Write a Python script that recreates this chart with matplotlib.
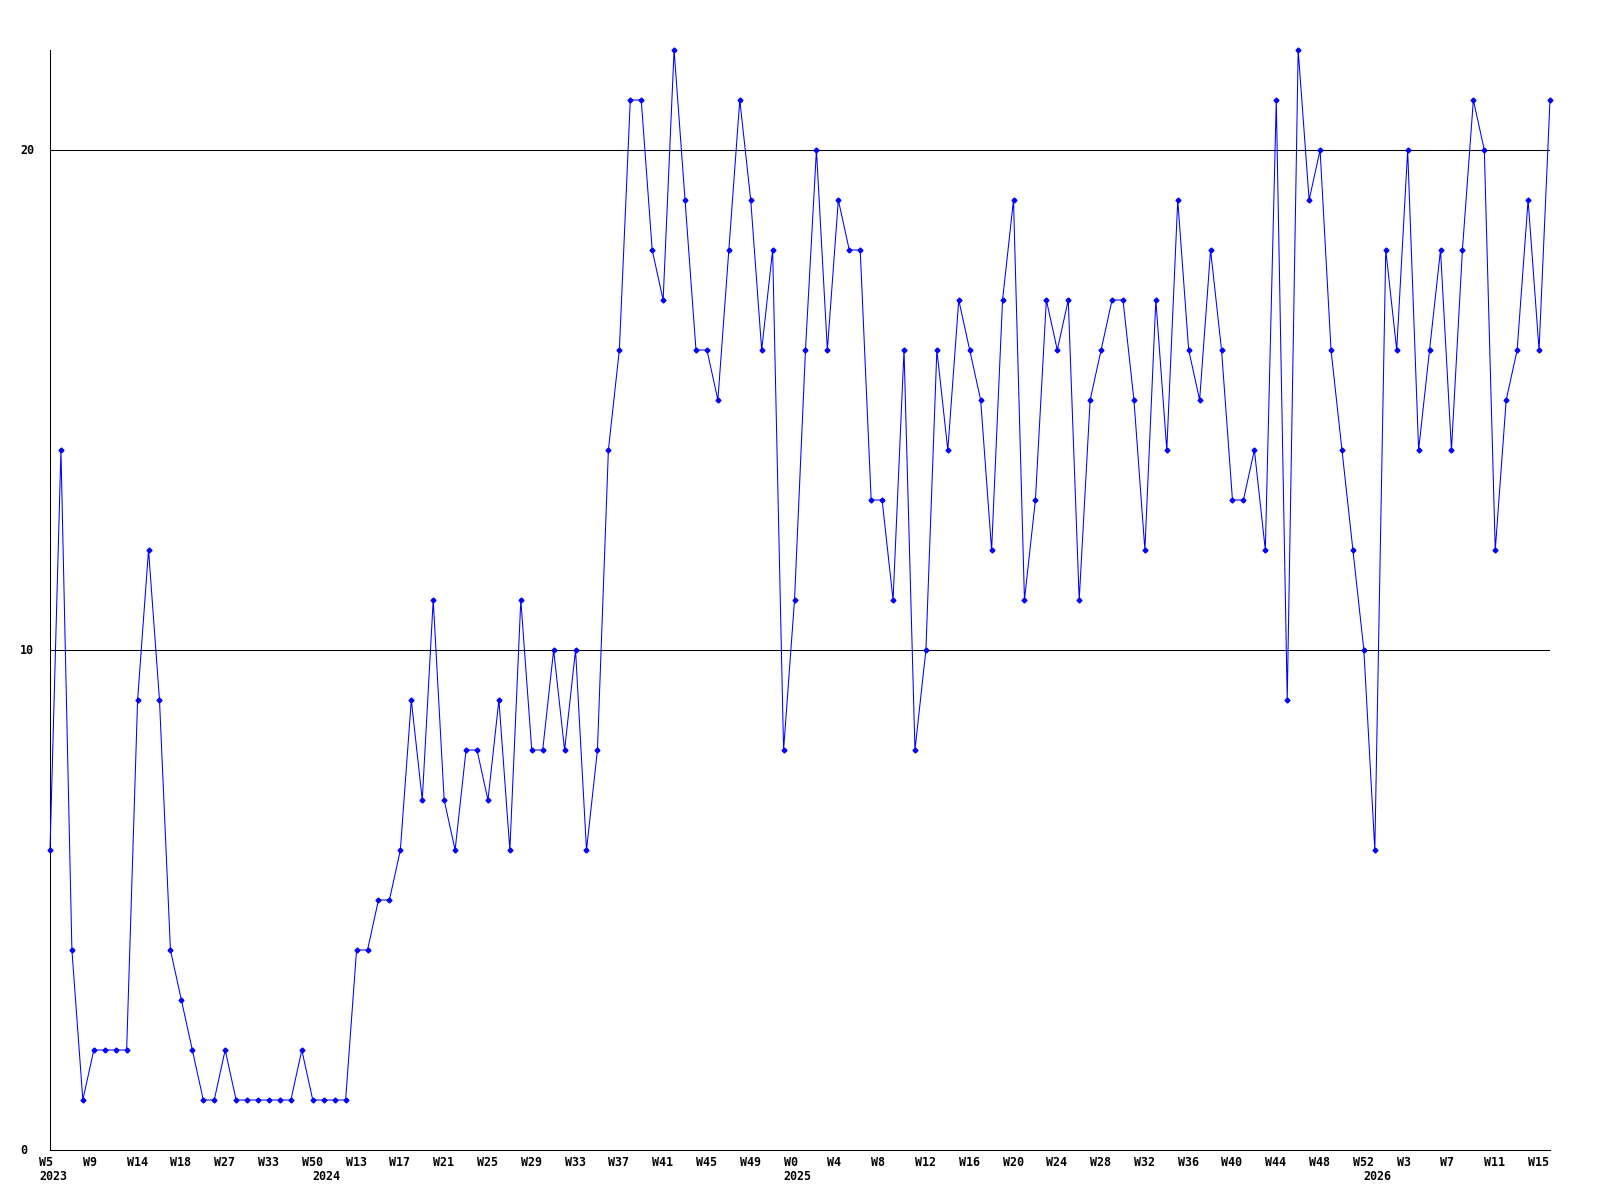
import matplotlib
matplotlib.use("Agg")
import matplotlib.pyplot as plt
import matplotlib.transforms as mtransforms

values = [6, 14, 4, 1, 2, 2, 2, 2, 9, 12, 9, 4, 3, 2, 1, 1, 2, 1, 1, 1,
          1, 1, 1, 2, 1, 1, 1, 1, 4, 4, 5, 5, 6, 9, 7, 11, 7, 6, 8, 8,
          7, 9, 6, 11, 8, 8, 10, 8, 10, 6, 8, 14, 16, 21, 21, 18, 17, 22, 19, 16,
          16, 15, 18, 21, 19, 16, 18, 8, 11, 16, 20, 16, 19, 18, 18, 13, 13, 11, 16, 8,
          10, 16, 14, 17, 16, 15, 12, 17, 19, 11, 13, 17, 16, 17, 11, 15, 16, 17, 17, 15,
          12, 17, 14, 19, 16, 15, 18, 16, 13, 13, 14, 12, 21, 9, 22, 19, 20, 16, 14, 12,
          10, 6, 18, 16, 20, 14, 16, 18, 14, 18, 21, 20, 12, 15, 16, 19, 16, 21]

week_labels = ["W5", "W9", "W14", "W18", "W27", "W33", "W50", "W13", "W17", "W21",
               "W25", "W29", "W33", "W37", "W41", "W45", "W49", "W0", "W4", "W8",
               "W12", "W16", "W20", "W24", "W28", "W32", "W36", "W40", "W44", "W48",
               "W52", "W3", "W7", "W11", "W15"]
week_label_idx = list(range(0, 137, 4))

year_labels = ["2023", "2024", "2025", "2026"]
year_label_idx = [0, 25, 68, 121]

y_ticks = [0, 10, 20]

W, H = 1600, 1200
fig = plt.figure(figsize=(16, 12), dpi=100)
ax = fig.add_axes([50 / W, 50 / H, 1500 / W, 1100 / H])

x = list(range(len(values)))
lw = 0.75
ax.plot(x, values, color="#0000ff", lw=lw, marker="D", ms=2.5,
        mfc="#0000ff", mec="#0000ff", zorder=3, clip_on=False)

for v in y_ticks[1:]:
    ax.axhline(v, color="black", lw=lw, zorder=1)

ax.set_xlim(0, 137)
ax.set_ylim(0, 22)
for s in ["top", "right"]:
    ax.spines[s].set_visible(False)
for s in ["left", "bottom"]:
    ax.spines[s].set_linewidth(lw)
    ax.spines[s].set_color("black")
ax.set_xticks([])
ax.set_yticks([])

font = dict(family="DejaVu Sans Mono", fontweight="bold", fontsize=8.4, color="black")

xtr = mtransforms.offset_copy(ax.get_xaxis_transform(), fig=fig, x=-11, y=-12, units="dots")
for i, lab in zip(week_label_idx, week_labels):
    ax.text(i, 0, lab, transform=xtr, ha="left", va="center", **font)

ytr = mtransforms.offset_copy(ax.get_xaxis_transform(), fig=fig, x=-11, y=-27, units="dots")
for i, lab in zip(year_label_idx, year_labels):
    ax.text(i, 0, lab, transform=ytr, ha="left", va="center", **font)

ylab_tr = mtransforms.blended_transform_factory(fig.transFigure, ax.transData)
for v in y_ticks:
    ax.text(20 / W, v, str(v), transform=ylab_tr, ha="left", va="center", **font)

fig.savefig("out.png", dpi=100, facecolor="white")
